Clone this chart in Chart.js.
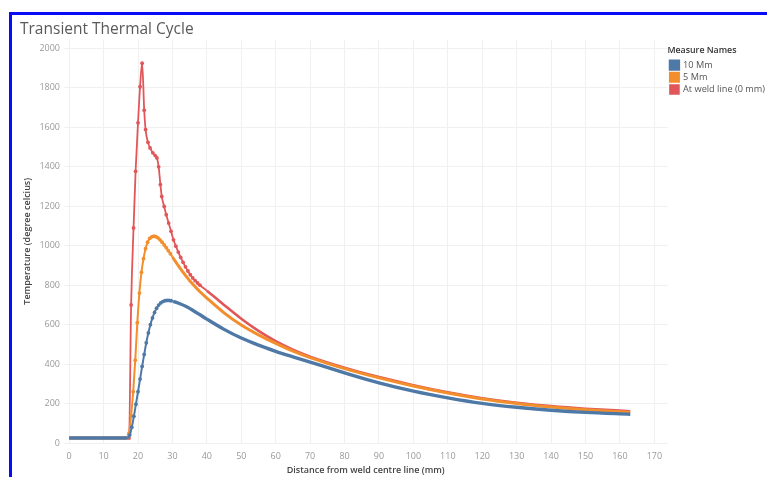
<!DOCTYPE html>
<html>
<head>
<meta charset="utf-8">
<script src="https://cdn.jsdelivr.net/npm/chart.js@4.4.1/dist/chart.umd.min.js"></script>
<style>
  html, body { margin: 0; padding: 0; background: #fff; overflow: hidden; }
  #wrap { position: relative; width: 767px; height: 477px; }
  #frame {
    position: absolute; left: 9px; top: 12px; width: 820px; height: 520px;
    border: 3px solid #0a0af5; pointer-events: none;
  }
  canvas { position: absolute; left: 0; top: 0; }
</style>
</head>
<body>
<div id="wrap">
  <canvas id="chart" width="767" height="477"></canvas>
  <div id="frame"></div>
</div>
<script>
// distance from weld centre line (mm) and temperature (deg C)
const blueX = [0, 5, 10, 15, 16.5, 17.0, 17.6, 18.2, 18.8, 19.4, 20.0, 20.6, 21.2, 21.8, 22.4, 23.0, 23.6, 24.2, 24.8, 25.4, 26.0, 26.6, 27.2, 27.8, 28.4, 29.0, 29.6, 30.2, 32, 34, 36, 38, 40, 45, 50, 55, 60, 65, 70, 80, 90, 100, 110, 120, 130, 140, 150, 163];
const blueT = [25, 25, 25, 25, 25, 27, 40, 80, 135, 197, 260, 324, 388, 449, 508, 558, 600, 634, 662, 683, 699, 710, 717, 721, 723, 723, 721, 718, 707, 692, 672, 650, 628, 576, 532, 496, 465, 437, 410, 356, 305, 263, 229, 201, 181, 166, 155, 146];

const orangeX = [0, 5, 10, 15, 16.8, 17.4, 18.0, 18.6, 19.2, 19.8, 20.4, 21.0, 21.6, 22.2, 22.8, 23.4, 24.0, 24.6, 25.2, 25.8, 26.4, 27.0, 27.6, 28.2, 28.8, 29.4, 30.0, 32, 34, 36, 38, 40, 45, 50, 55, 60, 65, 70, 80, 90, 100, 110, 120, 130, 140, 150, 163];
const orangeT = [25, 25, 25, 25, 25, 50, 140, 260, 420, 610, 760, 865, 935, 985, 1018, 1037, 1045, 1048, 1046, 1040, 1030, 1018, 1004, 990, 975, 960, 943, 892, 845, 803, 767, 735, 660, 598, 548, 505, 466, 433, 377, 330, 289, 253, 223, 200, 182, 168, 156];

const redX = [0, 5, 10, 15, 16.9, 17.4, 18.0, 18.7, 19.3, 20.0, 20.6, 21.2, 21.8, 22.2, 22.9, 23.5, 24.3, 25.0, 25.5, 26.0, 26.5, 26.9, 27.6, 28.2, 28.9, 29.6, 30.3, 31.0, 31.7, 32.4, 33.1, 33.8, 34.5, 35.2, 35.9, 36.6, 37.3, 38.0, 40, 45, 50, 55, 60, 65, 70, 80, 90, 100, 110, 120, 130, 140, 150, 163];
const redT = [25, 25, 25, 25, 25, 25, 700, 1090, 1377, 1623, 1806, 1925, 1687, 1589, 1524, 1496, 1471, 1457, 1445, 1400, 1310, 1250, 1199, 1157, 1115, 1073, 1030, 998, 968, 941, 916, 893, 872, 853, 837, 823, 811, 800, 772, 700, 630, 568, 516, 473, 438, 382, 334, 293, 257, 227, 204, 187, 174, 161];

const seriesNames = ['10 Mm', '5 Mm', 'At weld line (0 mm)'];
const xTicks = [0, 10, 20, 30, 40, 50, 60, 70, 80, 90, 100, 110, 120, 130, 140, 150, 160, 170];
const yTicks = [0, 200, 400, 600, 800, 1000, 1200, 1400, 1600, 1800, 2000];

const font = '"Open Sans", "DejaVu Sans", sans-serif';

function points(xs, ys) {
  return xs.map((x, i) => ({ x: x, y: ys[i] }));
}

// markers only on the steep part; past that the dense dots read as a thicker line
function series(label, xs, ys, color, thin, thick, limit) {
  return {
    label: label,
    data: points(xs, ys),
    borderColor: color,
    backgroundColor: color,
    borderWidth: thick,
    segment: {
      borderWidth: c => (c.p0.parsed.x > 16.8 && c.p0.parsed.x < limit) ? thin : thick
    },
    pointRadius: c => (c.raw && c.raw.x > 17 && c.raw.x < limit) ? 1.9 : 0,
    pointBorderWidth: 0,
    pointBackgroundColor: color,
    cubicInterpolationMode: 'monotone'
  };
}

const ctx = document.getElementById('chart').getContext('2d');

new Chart(ctx, {
  type: 'line',
  data: {
    datasets: [
      series(seriesNames[0], blueX, blueT, '#4e79a7', 2, 3.4, 30),
      series(seriesNames[1], orangeX, orangeT, '#f28e2b', 2, 3, 29.5),
      series(seriesNames[2], redX, redT, '#e15759', 1.8, 2.6, 39)
    ]
  },
  options: {
    responsive: false,
    animation: false,
    layout: {
      padding: { left: 20, top: 20, right: -8, bottom: 0 }
    },
    plugins: {
      title: {
        display: true,
        text: 'Transient Thermal Cycle',
        align: 'start',
        color: '#595959',
        font: { family: font, size: 15.5, weight: 'normal' },
        padding: { top: 0, bottom: 1 }
      },
      legend: {
        position: 'right',
        align: 'start',
        title: {
          display: true,
          text: 'Measure Names',
          position: 'start',
          color: '#333',
          font: { family: font, size: 8.8, weight: '600' },
          padding: { top: 26, bottom: 1 }
        },
        labels: {
          boxWidth: 8,
          boxHeight: 8,
          padding: 3,
          color: '#555',
          font: { family: font, size: 9.2 }
        }
      },
      tooltip: { enabled: false }
    },
    scales: {
      x: {
        type: 'linear',
        min: -1.5,
        max: 173.8,
        afterBuildTicks: scale => { scale.ticks = xTicks.map(v => ({ value: v })); },
        afterFit: scale => { scale.height = 34; },
        grid: { color: '#f0f0f0', drawTicks: false },
        border: { display: false },
        ticks: {
          color: '#999',
          padding: 8,
          autoSkip: false,
          maxRotation: 0,
          font: { family: font, size: 9 },
          callback: v => String(v)
        },
        title: {
          display: true,
          text: 'Distance from weld centre line (mm)',
          color: '#444',
          font: { family: font, size: 9, weight: '600' },
          padding: { top: 0, bottom: 1 }
        }
      },
      y: {
        min: 0,
        max: 2045,
        afterBuildTicks: scale => { scale.ticks = yTicks.map(v => ({ value: v })); },
        afterFit: scale => { scale.width = 44; },
        grid: { color: '#f0f0f0', drawTicks: false },
        border: { display: false },
        ticks: {
          color: '#999',
          padding: 4,
          autoSkip: false,
          font: { family: font, size: 9 },
          callback: v => String(v)
        },
        title: {
          display: true,
          text: 'Temperature (degree celcius)',
          color: '#444',
          font: { family: font, size: 9, weight: '600' },
          padding: { top: 2, bottom: 0 }
        }
      }
    }
  }
});
</script>
</body>
</html>
